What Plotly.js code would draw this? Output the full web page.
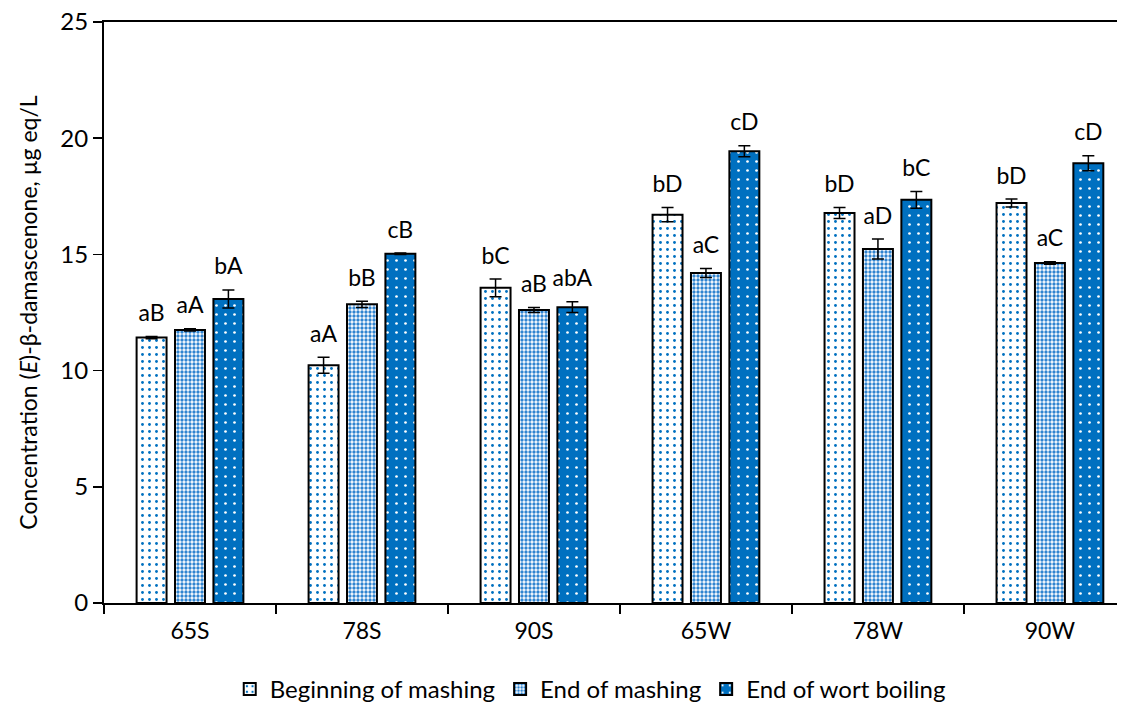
<!DOCTYPE html>
<html><head><meta charset="utf-8">
<script src="https://cdn.plot.ly/plotly-3.0.1.min.js"></script>
<style>body{margin:0;background:#fff}#c{width:1125px;height:720px}</style>
</head><body><div id="c"></div>
<script>
const categories = ["65S","78S","90S","65W","78W","90W"];
const seriesNames = ["Beginning of mashing","End of mashing","End of wort boiling"];
const beginning = [11.42, 10.23, 13.56, 16.71, 16.78, 17.21];
const beginningErr = [0.05, 0.34, 0.38, 0.31, 0.24, 0.17];
const endMashing = [11.75, 12.85, 12.61, 14.20, 15.23, 14.63];
const endMashingErr = [0.05, 0.13, 0.11, 0.19, 0.43, 0.05];
const endBoiling = [13.08, 15.03, 12.73, 19.44, 17.35, 18.92];
const endBoilingErr = [0.39, 0.03, 0.23, 0.24, 0.36, 0.32];
const labelsBeginning = ["aB","aA","bC","bD","bD","bD"];
const labelsEndMashing = ["aA","bB","aB","aC","aD","aC"];
const labelsEndBoiling = ["bA","cB","abA","cD","bC","cD"];

const FONT = "Lato, 'Open Sans', sans-serif";
const values = [beginning, endMashing, endBoiling];
const errs = [beginningErr, endMashingErr, endBoilingErr];
const labels = [labelsBeginning, labelsEndMashing, labelsEndBoiling];
const patterns = [
  {shape: ".", fgcolor: "#0070C0", bgcolor: "#ffffff", size: 7, solidity: 0.13},
  {shape: ".", fgcolor: "#2f84d0", bgcolor: "#ffffff", size: 4, solidity: 0.55},
  {shape: ".", fgcolor: "#ffffff", bgcolor: "#0070C0", size: 9, solidity: 0.07}
];
const fills = ["#ffffff", "#7fb0de", "#0070C0"];

const traces = [];
for (let i = 0; i < 3; i++) {
  traces.push({
    type: "bar", name: seriesNames[i], x: categories, y: values[i],
    offsetgroup: String(i),
    marker: {color: fills[i], pattern: patterns[i], line: {color: "#000", width: 2}},
    error_y: {type: "data", array: errs[i], visible: true, color: "#000", thickness: 1.5, width: 6},
    hoverinfo: "skip"
  });
}
for (let i = 0; i < 3; i++) {
  traces.push({
    type: "scatter", mode: "markers+text", x: categories,
    y: values[i].map((v, k) => v + errs[i][k]),
    text: labels[i], textposition: "top center",
    marker: {size: 14, opacity: 0, color: "#fff"},
    textfont: {family: FONT, size: 23, color: "#000"},
    offsetgroup: String(i), showlegend: false, cliponaxis: false, hoverinfo: "skip"
  });
}

const layout = {
  width: 1125, height: 720,
  paper_bgcolor: "#fff", plot_bgcolor: "#fff",
  margin: {l: 104, r: 8, t: 22, b: 110},
  barmode: "group", bargap: 0.33, bargroupgap: 0.22,
  scattermode: "group", scattergap: 0.33,
  font: {family: FONT, size: 24, color: "#000"},
  xaxis: {
    type: "category", range: [-0.5, 5.39], tickson: "boundaries",
    ticks: "outside", ticklen: 9, tickcolor: "#000", tickwidth: 1.5,
    showline: true, linecolor: "#000", linewidth: 2, mirror: true, ticklabelstandoff: 6,
    showgrid: false, tickfont: {family: FONT, size: 23}, fixedrange: true, automargin: false
  },
  yaxis: {
    range: [0, 25], dtick: 5, ticks: "outside", ticklen: 9, tickcolor: "#000", tickwidth: 1.5,
    showline: true, linecolor: "#000", linewidth: 2, showgrid: false, zeroline: false,
    tickfont: {family: FONT, size: 24}, automargin: false,
    title: {text: "Concentration (<i>E</i>)-β-damascenone, µg eq/L", font: {family: FONT, size: 23}, standoff: 16}
  },
  legend: {orientation: "h", x: 0.48, xanchor: "center", y: -0.11, yanchor: "top",
    font: {family: FONT, size: 24}, traceorder: "normal"},
  showlegend: true
};
Plotly.newPlot("c", traces, layout, {displayModeBar: false, staticPlot: true});
</script></body></html>
